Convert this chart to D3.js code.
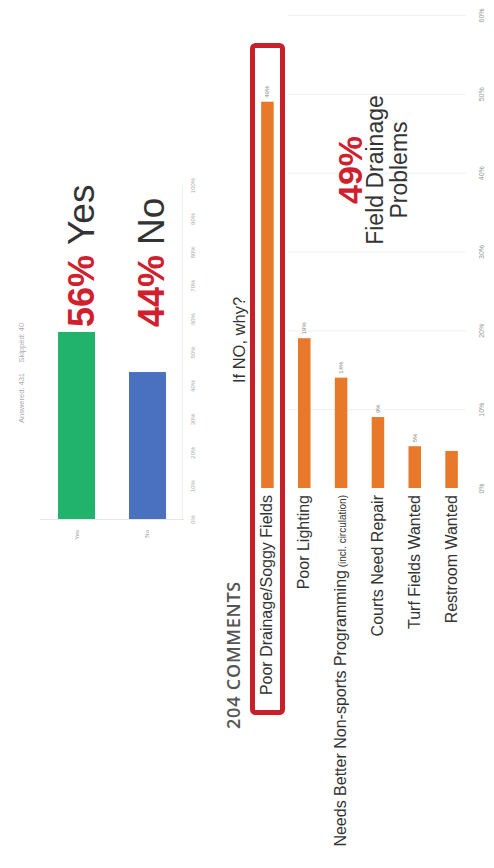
<!DOCTYPE html>
<html><head><meta charset="utf-8">
<script src="https://cdn.jsdelivr.net/npm/d3@7"></script>
<style>body{margin:0;background:#fff}svg{display:block}</style>
</head><body>
<svg id="c" width="494" height="868"></svg>
<script>
// ---- data ----
const ynCategories = ["Yes", "No"];
const ynValues = [56, 44];
const ynTicks = [0,10,20,30,40,50,60,70,80,90,100];

const whyCategories = ["Poor Drainage/Soggy Fields", "Poor Lighting", "Needs Better Non-sports Programming", "Courts Need Repair", "Turf Fields Wanted", "Restroom Wanted"];
const whyValues = [49, 19, 14, 9, 5.3, 4.7];
const whyLabels = ["49%", "19%", "14%", "9%", "5%", ""];
const whyTicks = [0,10,20,30,40,50,60];

const svg = d3.select("#c");
const FONT = "Liberation Sans, Arial, sans-serif";
const rot = (x,y)=>`translate(${x},${y}) rotate(-90)`;

// ---------- top chart (Yes / No) ----------
const tx = d3.scaleBand().domain(ynCategories).range([40,184]).paddingInner(0.479).paddingOuter(0.254);
const ty = d3.scaleLinear().domain([0,100]).range([519,185]);
const ynColors = ["#21b36b", "#4a71bf"];

// faint frame lines
svg.append("line").attr("x1",40).attr("x2",184).attr("y1",ty(0)+0.5).attr("y2",ty(0)+0.5).attr("stroke","#e6e6e6");
svg.append("line").attr("x1",182.5).attr("x2",182.5).attr("y1",ty(100)).attr("y2",ty(0)).attr("stroke","#eeeeee");

svg.append("g").selectAll("rect").data(ynValues).join("rect")
  .attr("x",(d,i)=>tx(ynCategories[i])).attr("width",tx.bandwidth())
  .attr("y",d=>ty(d)).attr("height",d=>ty(0)-ty(d))
  .attr("fill",(d,i)=>ynColors[i]);

// tiny category labels
svg.append("g").selectAll("text").data(ynCategories).join("text")
  .attr("transform",d=>rot(tx(d)+tx.bandwidth()/2+2, 530))
  .attr("text-anchor","end").attr("font-family",FONT).attr("font-size",6).attr("fill","#999")
  .text(d=>d);

// tiny value axis (rotated labels)
const tAxis = svg.append("g").attr("transform","translate(193,0)")
  .call(d3.axisRight(ty).tickValues(ynTicks).tickFormat(d=>d+"%").tickSize(0));
tAxis.select(".domain").remove();
tAxis.selectAll("text").attr("x",0).attr("y",2).attr("dy",0).attr("transform","rotate(-90)")
  .attr("text-anchor","middle").attr("font-family",FONT).attr("font-size",6).attr("fill","#aaa");

// answered / skipped
svg.append("text").attr("transform",rot(24,423)).attr("font-family",FONT).attr("font-size",7.5).attr("fill","#aaa")
  .attr("xml:space","preserve").text("Answered: 431     Skipped: 40");

// big annotations
ynCategories.forEach((c,i)=>{
  const cx = tx(c)+tx.bandwidth()/2 + 17;
  const t = svg.append("text").attr("transform",rot(cx,327)).attr("font-family",FONT);
  t.append("tspan").attr("font-weight","bold").attr("font-size",36).attr("fill","#d0202e").text(ynValues[i]+"% ");
  t.append("tspan").attr("font-size",37).attr("fill","#333").text(c);
});

// ---------- bottom chart (If NO, why?) ----------
svg.append("text").attr("transform",rot(245,340)).attr("text-anchor","middle")
  .attr("font-family",FONT).attr("font-size",16.5).attr("fill","#333").text("If NO, why?");

svg.append("text").attr("transform",rot(240,655)).attr("text-anchor","middle")
  .attr("font-family","Open Sans, sans-serif").attr("font-weight",600).attr("font-size",18)
  .attr("letter-spacing",0.8).attr("fill","#555")
  .text("204 COMMENTS");

const bx = d3.scaleBand().domain(whyCategories).range([249,470]).paddingInner(0.66).paddingOuter(0.33);
const by = d3.scaleLinear().domain([0,60]).range([488,15]);

// gridlines
svg.append("g").selectAll("line").data(whyTicks.slice(1)).join("line")
  .attr("x1",288).attr("x2",466).attr("y1",d=>by(d)+0.5).attr("y2",d=>by(d)+0.5)
  .attr("stroke","#f0f0f0");

// value axis on right
const bAxis = svg.append("g").attr("transform","translate(482,0)")
  .call(d3.axisRight(by).tickValues(whyTicks).tickFormat(d=>d+"%").tickSize(0));
bAxis.select(".domain").remove();
bAxis.selectAll("text").attr("x",0).attr("y",2).attr("dy",0).attr("transform","rotate(-90)")
  .attr("text-anchor","middle").attr("font-family",FONT).attr("font-size",7).attr("fill","#999");

// bars
svg.append("g").selectAll("rect").data(whyValues).join("rect")
  .attr("x",(d,i)=>bx(whyCategories[i])).attr("width",bx.bandwidth())
  .attr("y",d=>by(d)).attr("height",d=>by(0)-by(d))
  .attr("fill","#e8792b");

// value labels above bars
svg.append("g").selectAll("text").data(whyValues).join("text")
  .attr("transform",(d,i)=>rot(bx(whyCategories[i])+bx.bandwidth()/2+2, by(d)-4))
  .attr("font-family",FONT).attr("font-size",6).attr("fill","#888")
  .text((d,i)=>whyLabels[i]);

// category labels
const catG = svg.append("g");
whyCategories.forEach((c,i)=>{
  const t = catG.append("text").attr("transform",rot(bx(c)+bx.bandwidth()/2+5, 495))
    .attr("text-anchor","end").attr("font-family",FONT).attr("font-size",16).attr("fill","#333");
  t.append("tspan").text(c);
  if(i===2) t.append("tspan").attr("font-size",10).text(" (incl. circulation)");
});

// highlight box
svg.append("rect").attr("x",252.5).attr("y",45.5).attr("width",30).attr("height",667)
  .attr("rx",3).attr("fill","none").attr("stroke","#c8202b").attr("stroke-width",5);

// annotation
const ax = 350;
svg.append("text").attr("transform",rot(ax+12,170)).attr("text-anchor","middle")
  .attr("font-family",FONT).attr("font-weight","bold").attr("font-size",34).attr("fill","#d0202e").text("49%");
svg.append("text").attr("transform",rot(ax+33,170)).attr("text-anchor","middle")
  .attr("font-family",FONT).attr("font-size",23).attr("fill","#333").text("Field Drainage");
svg.append("text").attr("transform",rot(ax+57,170)).attr("text-anchor","middle")
  .attr("font-family",FONT).attr("font-size",23).attr("fill","#333").text("Problems");
</script>
</body></html>
